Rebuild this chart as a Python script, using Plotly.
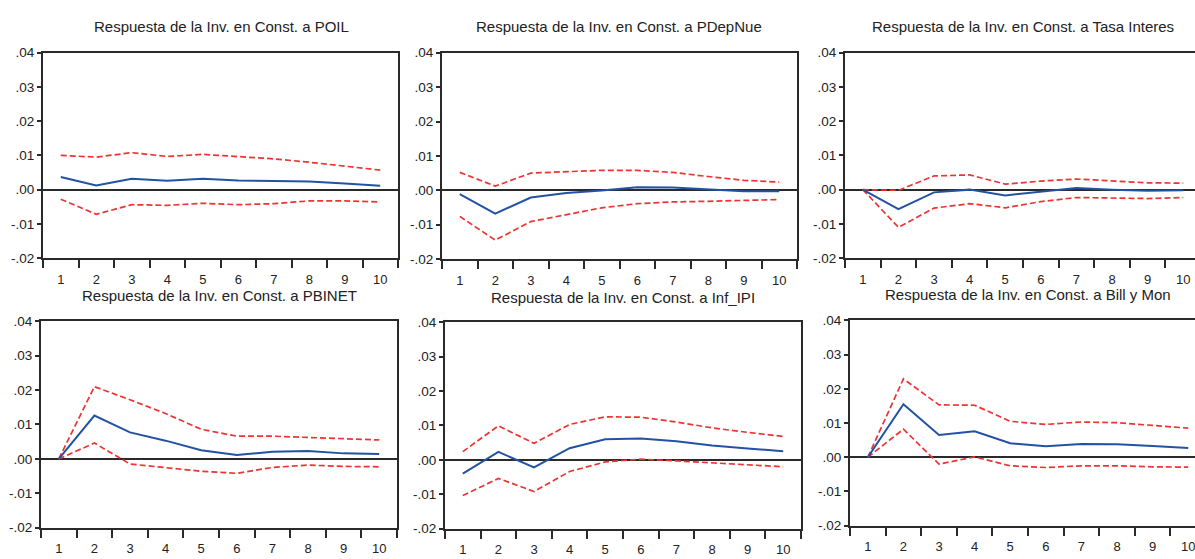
import plotly.graph_objects as go

W, H = 1195, 559

periods = list(range(1, 11))

titles = [
    "Respuesta de la Inv. en Const. a POIL",
    "Respuesta de la Inv. en Const. a PDepNue",
    "Respuesta de la Inv. en Const. a Tasa Interes",
    "Respuesta de la Inv. en Const. a PBINET",
    "Respuesta de la Inv. en Const. a Inf_IPI",
    "Respuesta de la Inv. en Const. a Bill y Mon",
]

# Impulse responses (central estimate) and +/- 2 S.E. bands
poil_resp = [0.0037, 0.0012, 0.0032, 0.0026, 0.0032, 0.0027, 0.0025, 0.0024, 0.0018, 0.0011]
poil_up = [0.0100, 0.0095, 0.0108, 0.0097, 0.0103, 0.0096, 0.0090, 0.0080, 0.0069, 0.0057]
poil_lo = [-0.0028, -0.0072, -0.0044, -0.0046, -0.0040, -0.0044, -0.0041, -0.0033, -0.0033, -0.0036]

pdep_resp = [-0.0011, -0.0068, -0.0021, -0.0008, -0.0001, 0.0009, 0.0008, 0.0002, -0.0003, -0.0003]
pdep_up = [0.0052, 0.0012, 0.0050, 0.0055, 0.0058, 0.0058, 0.0052, 0.0040, 0.0029, 0.0024]
pdep_lo = [-0.0076, -0.0145, -0.0091, -0.0070, -0.0051, -0.0039, -0.0034, -0.0032, -0.0030, -0.0027]

tasa_resp = [0.0, -0.0057, -0.0008, 0.0000, -0.0017, -0.0006, 0.0005, 0.0, -0.0003, -0.0002]
tasa_up = [0.0, -0.0002, 0.0040, 0.0043, 0.0016, 0.0025, 0.0031, 0.0025, 0.0020, 0.0019]
tasa_lo = [0.0, -0.0110, -0.0054, -0.0041, -0.0053, -0.0035, -0.0023, -0.0025, -0.0026, -0.0023]

pbi_resp = [0.0, 0.0126, 0.0077, 0.0053, 0.0025, 0.0011, 0.0021, 0.0023, 0.0016, 0.0014]
pbi_up = [0.0, 0.0210, 0.0172, 0.0132, 0.0086, 0.0066, 0.0066, 0.0063, 0.0058, 0.0055]
pbi_lo = [0.0, 0.0046, -0.0015, -0.0026, -0.0036, -0.0042, -0.0025, -0.0018, -0.0022, -0.0023]

inf_resp = [-0.0040, 0.0023, -0.0022, 0.0034, 0.0060, 0.0062, 0.0054, 0.0042, 0.0033, 0.0025]
inf_up = [0.0024, 0.0099, 0.0048, 0.0103, 0.0125, 0.0124, 0.0110, 0.0093, 0.0080, 0.0068]
inf_lo = [-0.0104, -0.0054, -0.0092, -0.0034, -0.0006, 0.0002, -0.0003, -0.0008, -0.0014, -0.0020]

bill_resp = [0.0, 0.0155, 0.0065, 0.0076, 0.0041, 0.0032, 0.0039, 0.0038, 0.0033, 0.0027]
bill_up = [0.0, 0.0229, 0.0153, 0.0152, 0.0105, 0.0096, 0.0103, 0.0101, 0.0093, 0.0085]
bill_lo = [0.0, 0.0082, -0.0020, 0.0001, -0.0025, -0.0030, -0.0025, -0.0025, -0.0028, -0.0029]

series = [
    (poil_resp, poil_up, poil_lo),
    (pdep_resp, pdep_up, pdep_lo),
    (tasa_resp, tasa_up, tasa_lo),
    (pbi_resp, pbi_up, pbi_lo),
    (inf_resp, inf_up, inf_lo),
    (bill_resp, bill_up, bill_lo),
]

ytick_vals = [-0.02, -0.01, 0.0, 0.01, 0.02, 0.03, 0.04]
ytick_text = ["-.02", "-.01", ".00", ".01", ".02", ".03", ".04"]
xtick_text = [str(p) for p in periods]

# panel geometry in pixels: left, right, top, bottom, x-range max, show right border
panels = [
    (43, 398, 47, 258, 10.5, True),
    (442, 797, 47, 259, 10.5, True),
    (845, 1195, 47, 258, 10.33, False),
    (41, 397, 323, 535, 10.5, True),
    (445, 801, 324, 536, 10.5, True),
    (850, 1195, 322, 533, 10.19, False),
]
title_pos = [(221, 20), (619, 20), (1023, 20), (219, 296), (623, 298), (1028, 295)]

BLUE = "#2452a3"
RED = "#ee3333"
AXC = "#2a2a2a"
FONT = "Liberation Sans, Arial, sans-serif"

fig = go.Figure()
layout = dict(
    width=W, height=H,
    margin=dict(l=0, r=0, t=0, b=0),
    paper_bgcolor="white", plot_bgcolor="white",
    showlegend=False,
    font=dict(family=FONT, color="#222222"),
    annotations=[],
)

for i, ((resp, up, lo), (l, r, t, b, xmax, rb)) in enumerate(zip(series, panels)):
    n = i + 1
    xa = "x" if n == 1 else f"x{n}"
    ya = "y" if n == 1 else f"y{n}"
    for vals, color, dash, width in [(up, RED, "6px,3px", 1.7), (lo, RED, "6px,3px", 1.7), (resp, BLUE, "solid", 2)]:
        fig.add_trace(go.Scatter(x=periods, y=vals, mode="lines",
                                 line=dict(color=color, width=width, dash=dash),
                                 xaxis=xa, yaxis=ya, hoverinfo="skip"))
    xkey = "xaxis" if n == 1 else f"xaxis{n}"
    ykey = "yaxis" if n == 1 else f"yaxis{n}"
    layout[xkey] = dict(
        domain=[l / W, r / W], anchor=ya,
        range=[0.5, xmax], showgrid=False, zeroline=False,
        showline=True, linecolor=AXC, linewidth=2, mirror=True,
        tickmode="array", tickvals=periods, ticktext=xtick_text,
        ticks="outside", ticklen=8, tickcolor="rgba(0,0,0,0)",
        tickfont=dict(size=13, family=FONT, color="#222222"),
        ticklabeloverflow="allow",
        minor=dict(tickmode="array", tickvals=[p - 0.5 for p in periods] + [10.5],
                   ticks="outside", ticklen=8, tickwidth=1.5, tickcolor=AXC, showgrid=False),
        fixedrange=True,
    )
    layout[ykey] = dict(
        domain=[1 - b / H, 1 - t / H], anchor=xa,
        range=[-0.02, 0.04], showgrid=False,
        zeroline=True, zerolinecolor=AXC, zerolinewidth=1.5,
        showline=True, linecolor=AXC, linewidth=2, mirror=rb,
        tickmode="array", tickvals=ytick_vals, ticktext=ytick_text,
        ticks="outside", ticklen=4, tickwidth=1.5, tickcolor=AXC,
        tickfont=dict(size=13.5, family=FONT, color="#222222"),
        fixedrange=True,
    )
    tx, ty = title_pos[i]
    layout["annotations"].append(dict(
        text=titles[i], xref="paper", yref="paper",
        x=tx / W, y=1 - ty / H, xanchor="center", yanchor="middle",
        showarrow=False, font=dict(size=15, family=FONT, color="#222222"),
    ))

fig.update_layout(**layout)
fig.write_html(
    "out.html",
    config={"displayModeBar": False},
    post_script="document.body.style.margin='0';document.body.style.overflow='hidden';",
)
